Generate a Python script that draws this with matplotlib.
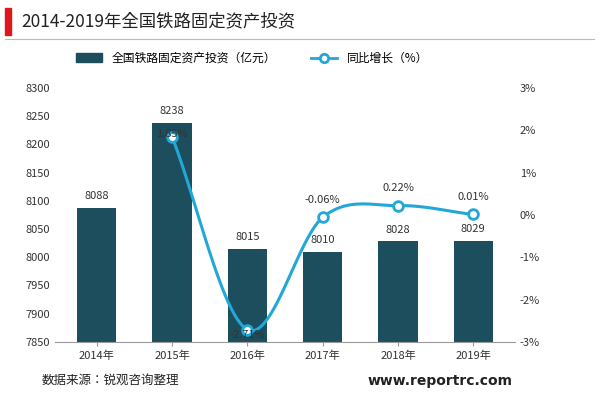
import numpy as np
import matplotlib
matplotlib.use("Agg")
import matplotlib.pyplot as plt
from matplotlib.patches import Rectangle
from matplotlib.lines import Line2D

plt.rcParams["font.family"] = ["Noto Sans CJK SC", "Noto Sans CJK JP", "Noto Sans CJK TC", "DejaVu Sans"]
plt.rcParams["axes.unicode_minus"] = False

years = ["2014年", "2015年", "2016年", "2017年", "2018年", "2019年"]
invest = [8088, 8238, 8015, 8010, 8028, 8029]
growth = [1.85, -2.71, -0.06, 0.22, 0.01]
growth_labels = ["1.85%", "-2.71%", "-0.06%", "0.22%", "0.01%"]
label_offsets = [0.05, -0.12, 0.3, 0.3, 0.3]

bar_c = "#1d4e5e"
line_c = "#22a7d8"

fig = plt.figure(figsize=(6, 4.07), dpi=100)
ax = fig.add_axes([0.092, 0.16, 0.766, 0.624])
x = np.arange(len(years))
ax.bar(x, invest, width=0.52, color=bar_c, zorder=2)
ax.set_ylim(7850, 8300)
ax.set_yticks(np.arange(7850, 8301, 50))
ax.set_xlim(-0.55, 5.55)
ax.set_xticks(x)
ax.set_xticklabels(years)
for v, xi in zip(invest, x):
    ax.text(xi, v + 12, str(v), ha="center", va="bottom", fontsize=8, color="#333333")
for s in ["top", "right", "left"]:
    ax.spines[s].set_visible(False)
ax.spines["bottom"].set_color("#999999")
ax.tick_params(axis="both", labelsize=8, colors="#333333", length=0)
ax.tick_params(axis="x", length=3, color="#999999")

ax2 = ax.twinx()
ax2.set_ylim(-3, 3)
ax2.set_yticks(np.arange(-3, 4, 1))
ax2.set_yticklabels([f"{v}%" for v in range(-3, 4)])
for s in ["top", "right", "left", "bottom"]:
    ax2.spines[s].set_visible(False)
ax2.tick_params(axis="y", labelsize=8, colors="#333333", length=0)

px = x[1:].astype(float)
py = np.array(growth, dtype=float)
P = np.column_stack([px, py])
P = np.vstack([2 * P[0] - P[1], P, 2 * P[-1] - P[-2]])
cx, cy = [], []
for i in range(1, len(P) - 2):
    p0, p1, p2, p3 = P[i - 1], P[i], P[i + 1], P[i + 2]
    for t in np.linspace(0, 1, 30):
        pt = 0.5 * ((2 * p1) + (-p0 + p2) * t + (2 * p0 - 5 * p1 + 4 * p2 - p3) * t**2
                    + (-p0 + 3 * p1 - 3 * p2 + p3) * t**3)
        cx.append(pt[0]); cy.append(pt[1])
ax2.plot(cx, cy, color=line_c, lw=2.2, zorder=3)
ax2.plot(px, py, "o", ms=7, mfc="white", mec=line_c, mew=2, zorder=4)
for xi, v, lab, off in zip(px, py, growth_labels, label_offsets):
    ax2.text(xi, v + off, lab, ha="center", va="center" if off < 0.2 else "bottom",
             fontsize=8, color="#333333", zorder=5)

handles = [Rectangle((0, 0), 1, 1, color=bar_c),
           Line2D([0], [0], color=line_c, lw=2, marker="o", mfc="white", mec=line_c, mew=2, ms=6)]
fig.legend(handles, ["全国铁路固定资产投资（亿元）", "同比增长（%）"], loc="center",
           bbox_to_anchor=(0.42, 0.857), ncol=2, frameon=False, fontsize=8.5,
           handlelength=2.2, columnspacing=3)

fig.patches.append(Rectangle((0.008, 0.915), 0.01, 0.065, transform=fig.transFigure,
                             color="#e0161d"))
fig.text(0.035, 0.947, "2014-2019年全国铁路固定资产投资", fontsize=12.5, va="center", color="#222222")
fig.add_artist(Line2D([0.008, 0.99], [0.905, 0.905], transform=fig.transFigure,
                      color="#bbbbbb", lw=0.8))

fig.text(0.07, 0.065, "数据来源：锐观咨询整理", fontsize=9, va="center", color="#222222")
fig.text(0.855, 0.065, "www.reportrc.com", fontsize=10, fontweight="bold", va="center",
         ha="right", color="#222222", family="DejaVu Sans")

fig.savefig("out.png", dpi=100)
